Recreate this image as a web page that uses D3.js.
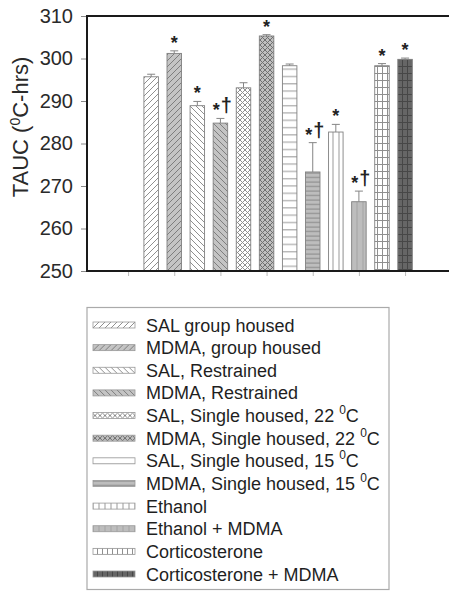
<!DOCTYPE html>
<html>
<head>
<meta charset="utf-8">
<script src="https://cdn.jsdelivr.net/npm/d3@7"></script>
<style>
  body { margin: 0; background: #fff; }
  svg { display: block; font-family: "Liberation Sans", Arial, sans-serif; }
</style>
</head>
<body>
<div id="chart"></div>
<script>
// data
var groups = [
    "SAL group housed",
    "MDMA, group housed",
    "SAL, Restrained",
    "MDMA, Restrained",
    "SAL, Single housed, 22 |C",
    "MDMA, Single housed, 22 |C",
    "SAL, Single housed, 15 |C",
    "MDMA, Single housed, 15 |C",
    "Ethanol",
    "Ethanol + MDMA",
    "Corticosterone",
    "Corticosterone + MDMA"
];
var means = [295.7, 301.2, 288.9, 284.8, 293.1, 305.3, 298.3, 273.3, 282.7, 266.3, 298.3, 299.8];
var sems = [0.6, 0.6, 1.0, 1.1, 1.2, 0.3, 0.4, 6.9, 1.8, 2.5, 0.5, 0.3];
var marks = ["", "*", "*", "*†", "", "*", "", "*†", "*", "*†", "*", "*"];
var yTicks = [250, 260, 270, 280, 290, 300, 310];
var xTicks = [0, 2, 4, 6, 8, 10, 12];

// fill style per group: [background, line colour, kind]
var fills = [
    ["#fff", "#8f8f8f", "diagR"],
    ["#c4c4c4", "#7e7e7e", "diagR"],
    ["#fff", "#8f8f8f", "diagL"],
    ["#c4c4c4", "#7e7e7e", "diagL"],
    ["#fff", "#8f8f8f", "cross"],
    ["#bfbfbf", "#707070", "cross"],
    ["#fff", "#999", "hlines"],
    ["#bdbdbd", "#888", "hlines2"],
    ["#fff", "#999", "vlines"],
    ["#bdbdbd", "#a4a4a4", "vlines"],
    ["#fff", "#8f8f8f", "grid"],
    ["#666", "#474747", "grid"]
];

var svgWidth = 449;
var svgHeight = 591;

var plot = { left: 87, top: 16, bottom: 271, right: 460 };

var svg = d3.select("#chart")
    .append("svg")
    .attr("width", svgWidth)
    .attr("height", svgHeight);

var defs = svg.append("defs");

function addPattern(id, bg, lc, kind) {
    // build one hatch pattern
    var w = 6, h = 6, d = "";
    if (kind === "diagR") { d = "M0,6L6,0M-1,1L1,-1M5,7L7,5"; }
    if (kind === "diagL") { d = "M0,0L6,6M-1,5L1,7M5,-1L7,1"; }
    if (kind === "cross") { w = 5; h = 5; d = "M0,0L5,5M0,5L5,0"; }
    if (kind === "hlines") { w = 6; h = 7.3; d = "M0,3.5H6"; }
    if (kind === "hlines2") { w = 6; h = 4.5; d = "M0,2H6"; }
    if (kind === "vlines") { w = 6; h = 6; d = "M3,0V6"; }
    if (kind === "grid") { w = 5; h = 7; d = "M2.5,0V7M0,3.5H5"; }

    var p = defs.append("pattern")
        .attr("id", id)
        .attr("patternUnits", "userSpaceOnUse")
        .attr("width", w)
        .attr("height", h);
    p.append("rect").attr("width", w).attr("height", h).attr("fill", bg);
    p.append("path").attr("d", d)
        .attr("stroke", lc)
        .attr("stroke-width", 1)
        .attr("fill", "none");
}

fills.forEach(function (f, i) { addPattern("pat" + i, f[0], f[1], f[2]); });

var x = d3.scaleLinear()
    .domain([-1.78, 14.38])
    .range([plot.left, plot.right]);

var y = d3.scaleLinear()
    .domain([250, 310])
    .range([plot.bottom, plot.top]);

var barW = 14.5;

// bars
svg.selectAll("rect.bar")
    .data(means)
    .enter()
    .append("rect")
    .attr("class", "bar")
    .attr("x", (d, i) => x(i + 1) - barW / 2)
    .attr("y", d => y(d))
    .attr("width", barW)
    .attr("height", d => y(250) - y(d))
    .attr("fill", (d, i) => "url(#pat" + i + ")")
    .attr("stroke", "#808080")
    .attr("stroke-width", 0.9);

// error bars (upper only)
var err = svg.selectAll("g.err")
    .data(means)
    .enter()
    .append("g")
    .attr("class", "err")
    .attr("stroke", "#858585")
    .attr("stroke-width", 1);

err.append("line")
    .attr("x1", (d, i) => x(i + 1))
    .attr("x2", (d, i) => x(i + 1))
    .attr("y1", d => y(d))
    .attr("y2", (d, i) => y(d + sems[i]));

err.append("line")
    .attr("x1", (d, i) => x(i + 1) - 4)
    .attr("x2", (d, i) => x(i + 1) + 4)
    .attr("y1", (d, i) => y(d + sems[i]))
    .attr("y2", (d, i) => y(d + sems[i]));

// significance marks
var sig = svg.selectAll("text.sig")
    .data(marks)
    .enter()
    .append("text")
    .attr("class", "sig")
    .attr("x", (d, i) => x(i + 1) + (d.length > 1 ? 2 : 0))
    .attr("y", (d, i) => y(means[i] + sems[i]) - (d.length > 1 ? 6 : 2))
    .attr("text-anchor", "middle")
    .attr("fill", "#222");

sig.each(function (d) {
    var t = d3.select(this);
    if (d.length === 0) return;
    t.append("tspan")
        .attr("font-size", "18px")
        .attr("font-weight", "bold")
        .attr("dy", d.length > 1 ? 4 : 0)
        .text("*");
    if (d.length > 1) {
        t.append("tspan")
            .attr("font-size", "20px")
            .attr("font-weight", "bold")
            .attr("dx", 1)
            .attr("dy", -4)
            .text("†");
    }
});

// y axis
var yAxis = svg.append("g")
    .attr("transform", `translate(${plot.left},0)`)
    .call(d3.axisLeft(y).tickValues(yTicks).tickSize(6).tickPadding(8));
yAxis.select(".domain").remove();
yAxis.selectAll(".tick line").attr("stroke", "#888");
yAxis.selectAll(".tick text")
    .attr("font-size", "20px")
    .attr("font-family", "Liberation Sans, Arial, sans-serif")
    .attr("fill", "#2a2a2a");

// x axis ticks (no labels)
var xAxis = svg.append("g")
    .attr("transform", `translate(0,${plot.bottom})`)
    .call(d3.axisBottom(x).tickValues(xTicks).tickSize(5).tickFormat(""));
xAxis.select(".domain").remove();
xAxis.selectAll(".tick line").attr("stroke", "#bbb");

// frame
svg.append("path")
    .attr("d", `M${plot.right},${plot.top}H${plot.left}V${plot.bottom}H${plot.right}`)
    .attr("fill", "none")
    .attr("stroke", "#1a1a1a")
    .attr("stroke-width", 2);

// y label
var yLabel = svg.append("text")
    .attr("transform", "translate(28,127) rotate(-90)")
    .attr("text-anchor", "middle")
    .attr("font-size", "22px")
    .attr("fill", "#2a2a2a");
yLabel.append("tspan").text("TAUC (");
yLabel.append("tspan").attr("font-size", "14px").attr("dy", -8).text("0");
yLabel.append("tspan").attr("dy", 8).text("C-hrs)");

// legend
var legend = svg.append("g");
legend.append("rect")
    .attr("x", 87)
    .attr("y", 307.5)
    .attr("width", 302)
    .attr("height", 282)
    .attr("fill", "#fff")
    .attr("stroke", "#aaa")
    .attr("stroke-width", 1.2);

var rowY = d3.scaleLinear().domain([0, 11]).range([325, 574]);

var rows = legend.selectAll("g.row")
    .data(groups)
    .enter()
    .append("g")
    .attr("class", "row")
    .attr("transform", (d, i) => `translate(0,${rowY(i)})`);

rows.append("rect")
    .attr("x", 93)
    .attr("y", -3)
    .attr("width", 42)
    .attr("height", 6)
    .attr("fill", (d, i) => "url(#pat" + i + ")")
    .attr("stroke", "#999")
    .attr("stroke-width", 0.8);

rows.append("text")
    .attr("x", 146)
    .attr("y", 6.5)
    .attr("font-size", "18px")
    .attr("fill", "#1f1f1f")
    .each(function (d) {
        var t = d3.select(this);
        var parts = d.split("|");
        t.append("tspan").text(parts[0]);
        if (parts.length > 1) {
            t.append("tspan").attr("font-size", "12px").attr("dy", -8).text("0");
            t.append("tspan").attr("dy", 8).text(parts[1]);
        }
    });
</script>
</body>
</html>
